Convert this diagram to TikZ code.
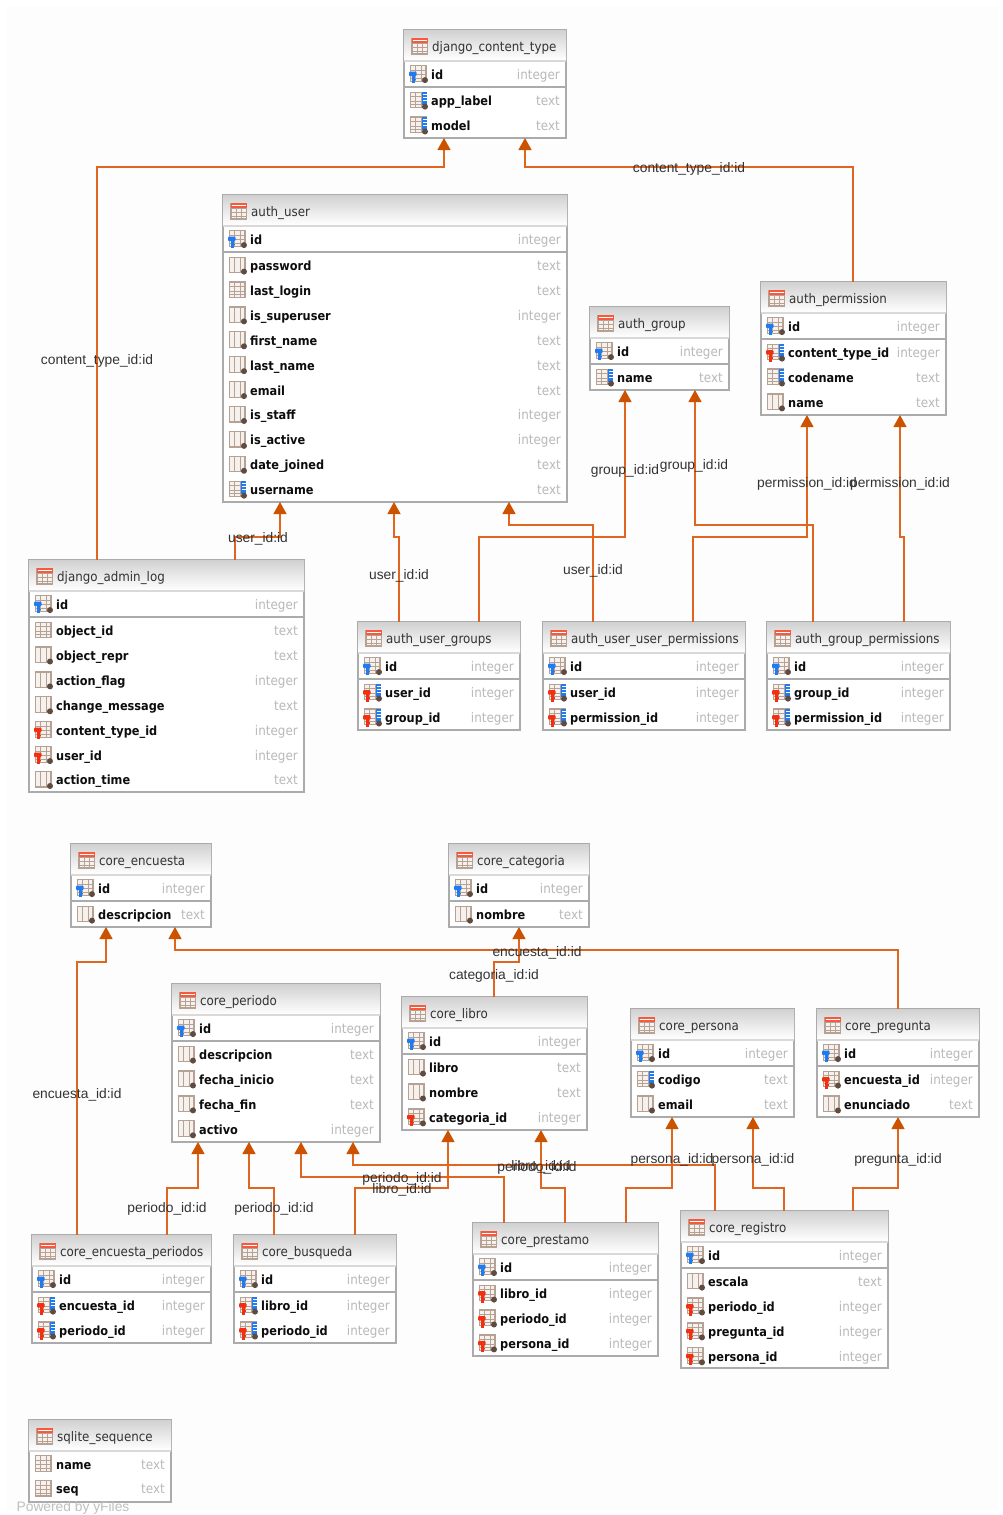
\documentclass[tikz,border=0pt]{standalone}
\usepackage{fontspec}
\setmainfont{Liberation Sans}
\newfontfamily\tablefont{DejaVu Sans Condensed}
\usetikzlibrary{arrows.meta}

\definecolor{fkline}{HTML}{E0651F}
\definecolor{fkhead}{HTML}{CC5200}
\definecolor{boxline}{HTML}{ABABAB}
\definecolor{iconline}{HTML}{B5A295}
\definecolor{iconfill}{HTML}{F6F1EC}
\definecolor{keyblue}{HTML}{1F7BEF}
\definecolor{keyred}{HTML}{F2300F}
\definecolor{dotbrown}{HTML}{5F4B40}
\definecolor{typegray}{HTML}{B9B9B9}

% icon parts
\newcommand{\iconbase}{
  \draw[iconline, fill=iconfill, line width=1.2pt] (-7.5,-7.5) rectangle (8,8);
  \foreach \gx in {-2.5,3} \draw[iconline, line width=1pt] (\gx,-7.5) -- (\gx,8);
}
\newcommand{\iconrows}{
  \foreach \gy in {-3,1.5,5} \draw[iconline, line width=.8pt] (-7.5,\gy) -- (8,\gy);
}
\newcommand{\iconhead}{
  \iconbase\iconrows
  \fill[keyred!80] (-8,-8) rectangle (8.5,-3.5);
  \draw[white, line width=.6pt] (-7,-5.8) -- (7.5,-5.8);
}
\newcommand{\icondot}{\fill[dotbrown] (7,7) circle (3);}
\newcommand{\iconbar}{
  \fill[keyblue] (4,-8) rectangle (8.5,5);
  \foreach \gy in {-5,-2,1} \draw[white, line width=.7pt] (5,\gy) -- (8.5,\gy);
}
\newcommand{\iconkey}[1]{
  \fill[#1, rounded corners=1pt] (-9,-1.5) rectangle (-1.5,3);
  \fill[#1] (-6.5,2) rectangle (-3.5,10);
  \fill[#1] (-3.5,5.5) rectangle (-2,7);
}
\newcommand{\colp}{\iconbase\iconrows}
\newcommand{\cold}{\iconbase\icondot}
\newcommand{\colpk}{\iconbase\iconrows\icondot\iconkey{keyblue}}
\newcommand{\colud}{\iconbase\iconrows\iconbar\icondot}
\newcommand{\colfud}{\iconbase\iconrows\iconbar\icondot\iconkey{keyred}}
\newcommand{\colfd}{\iconbase\iconrows\icondot\iconkey{keyred}}
\newcommand{\colf}{\iconbase\iconrows\iconkey{keyred}}

% [1 = has a primary key row], name, x, y, width, height, title, rows
\newcommand{\dbtable}[8][1]{
  \node[dbbox, minimum width=#5pt, minimum height=#6pt] (#2) at (#3,#4) {};
  \node[dbhead, minimum width=#5pt] (#2-head) at (#2.north west) {};
  \begin{scope}[shift={(#2.north west)}]
    \draw[black!15, line width=1.2pt] (0,31) -- (#5,31);
    \begin{scope}[shift={(15.5,16)}] \iconhead \end{scope}
    \node[dbtitle] (#2-title) at (28,21.5) {#7};
    \ifnum#1=1 \draw[boxline, line width=1.3pt] (0,57) -- (#5,57); \fi
    \foreach \ic/\nm/\ty [count=\k] in {#8} {
      \pgfmathsetmacro{\rowy}{44.6+(\k-1)*24.9+(\k>1)*1.6*#1}
      \begin{scope}[shift={(14,\rowy-1.5)}] \csname col\ic\endcsname \end{scope}
      \node[dbcol] (#2-n\k) at (27,\rowy+4.4) {\nm};
      \node[dbtype] (#2-t\k) at (#5-6,\rowy+4.4) {\ty};
    }
  \end{scope}
}

\begin{document}
\begin{tikzpicture}[x=1pt, y=-1pt]
\tikzstyle{dbbox}=[rectangle, draw=boxline, line width=1.2pt, fill=white, anchor=north west, outer sep=0pt, inner sep=0pt]
\tikzstyle{dbhead}=[rectangle, anchor=north west, minimum height=30pt, inner sep=0pt, outer sep=0pt, top color=black!18, bottom color=white, draw=none]
\tikzstyle{dbtitle}=[anchor=base west, inner sep=0pt, text=black!80, font=\tablefont\fontsize{13.2}{15}\selectfont]
\tikzstyle{dbcol}=[anchor=base west, inner sep=0pt, text=black!95, font=\tablefont\bfseries\fontsize{12.6}{15}\selectfont]
\tikzstyle{dbtype}=[anchor=base east, inner sep=0pt, text=typegray, font=\tablefont\fontsize{13.3}{15}\selectfont]
\tikzstyle{fk}=[fkline, line width=1.2pt, -{Triangle[length=12pt,width=13pt,color=fkhead]}]
\tikzstyle{fklabel}=[inner sep=0pt, yshift=-1.5pt, text=black!80, font=\fontsize{13.8}{16}\selectfont]

\useasboundingbox (0,0) rectangle (1003,1515);
\fill[black!0.7] (6,6) rectangle (998,1510);

\dbtable{ctype}{404}{30}{162}{108}{django\_content\_type}{
  pk/id/integer, ud/app\_label/text, ud/model/text}
\dbtable{authuser}{223}{195}{344}{307}{auth\_user}{
  pk/id/integer, d/password/text, p/last\_login/text, d/is\_superuser/integer,
  d/first\_name/text, d/last\_name/text, d/email/text, d/is\_staff/integer,
  d/is\_active/integer, d/date\_joined/text, ud/username/text}
\dbtable{authperm}{761}{282}{185}{133}{auth\_permission}{
  pk/id/integer, fud/content\_type\_id/integer, ud/codename/text, d/name/text}
\dbtable{authgroup}{590}{307}{139}{83}{auth\_group}{
  pk/id/integer, ud/name/text}
\dbtable{adminlog}{29}{560}{275}{232}{django\_admin\_log}{
  pk/id/integer, p/object\_id/text, d/object\_repr/text, d/action\_flag/integer,
  d/change\_message/text, f/content\_type\_id/integer, fd/user\_id/integer,
  d/action\_time/text}
\dbtable{usergroups}{358}{622}{162}{108}{auth\_user\_groups}{
  pk/id/integer, fud/user\_id/integer, fud/group\_id/integer}
\dbtable{userperms}{543}{622}{202}{108}{auth\_user\_user\_permissions}{
  pk/id/integer, fud/user\_id/integer, fud/permission\_id/integer}
\dbtable{groupperms}{767}{622}{183}{108}{auth\_group\_permissions}{
  pk/id/integer, fud/group\_id/integer, fud/permission\_id/integer}
\dbtable{encuesta}{71}{844}{140}{83}{core\_encuesta}{
  pk/id/integer, d/descripcion/text}
\dbtable{categoria}{449}{844}{140}{83}{core\_categoria}{
  pk/id/integer, d/nombre/text}
\dbtable{periodo}{172}{984}{208}{158}{core\_periodo}{
  pk/id/integer, d/descripcion/text, d/fecha\_inicio/text, d/fecha\_fin/text,
  d/activo/integer}
\dbtable{libro}{402}{997}{185}{133}{core\_libro}{
  pk/id/integer, d/libro/text, d/nombre/text, fd/categoria\_id/integer}
\dbtable{persona}{631}{1009}{163}{108}{core\_persona}{
  pk/id/integer, ud/codigo/text, d/email/text}
\dbtable{pregunta}{817}{1009}{162}{108}{core\_pregunta}{
  pk/id/integer, fd/encuesta\_id/integer, d/enunciado/text}
\dbtable{encper}{32}{1235}{179}{108}{core\_encuesta\_periodos}{
  pk/id/integer, fud/encuesta\_id/integer, fud/periodo\_id/integer}
\dbtable{busqueda}{234}{1235}{162}{108}{core\_busqueda}{
  pk/id/integer, fud/libro\_id/integer, fud/periodo\_id/integer}
\dbtable{prestamo}{473}{1223}{185}{133}{core\_prestamo}{
  pk/id/integer, fd/libro\_id/integer, fd/periodo\_id/integer, fd/persona\_id/integer}
\dbtable{registro}{681}{1211}{207}{157}{core\_registro}{
  pk/id/integer, d/escala/text, fd/periodo\_id/integer, fd/pregunta\_id/integer,
  fd/persona\_id/integer}
\dbtable[0]{sqliteseq}{29}{1420}{142}{82}{sqlite\_sequence}{
  p/name/text, p/seq/text}

\draw[fk] ([xshift=68pt]adminlog.north west) -- ++(0,-393) -| ([xshift=40pt]ctype.south west);
\draw[fk] ([xshift=92pt]authperm.north west) -- ++(0,-115) -| ([xshift=121pt]ctype.south west);
\draw[fk] ([xshift=206pt]adminlog.north west) -- ++(0,-23) -| ([xshift=57pt]authuser.south west);
\draw[fk] ([xshift=41pt]usergroups.north west) -- ++(0,-85) -| ([xshift=171pt]authuser.south west);
\draw[fk] ([xshift=121pt]usergroups.north west) -- ++(0,-85) -| ([xshift=35pt]authgroup.south west);
\draw[fk] ([xshift=50pt]userperms.north west) -- ++(0,-97) -| ([xshift=286pt]authuser.south west);
\draw[fk] ([xshift=150pt]userperms.north west) -- ++(0,-85) -| ([xshift=46pt]authperm.south west);
\draw[fk] ([xshift=46pt]groupperms.north west) -- ++(0,-97) -| ([xshift=105pt]authgroup.south west);
\draw[fk] ([xshift=137pt]groupperms.north west) -- ++(0,-85) -| ([xshift=139pt]authperm.south west);
\draw[fk] ([xshift=45pt]encper.north west) -- ++(0,-273) -| ([xshift=35pt]encuesta.south west);
\draw[fk] ([xshift=81pt]pregunta.north west) -- ++(0,-59) -| ([xshift=104pt]encuesta.south west);
\draw[fk] ([xshift=92pt]libro.north west) -- ++(0,-35) -| ([xshift=70pt]categoria.south west);
\draw[fk] ([xshift=135pt]encper.north west) -- ++(0,-47) -| ([xshift=26pt]periodo.south west);
\draw[fk] ([xshift=40pt]busqueda.north west) -- ++(0,-47) -| ([xshift=77pt]periodo.south west);
\draw[fk] ([xshift=121pt]busqueda.north west) -- ++(0,-47) -| ([xshift=46pt]libro.south west);
\draw[fk] ([xshift=31pt]prestamo.north west) -- ++(0,-46) -| ([xshift=129pt]periodo.south west);
\draw[fk] ([xshift=92pt]prestamo.north west) -- ++(0,-35) -| ([xshift=139pt]libro.south west);
\draw[fk] ([xshift=153pt]prestamo.north west) -- ++(0,-35) -| ([xshift=41pt]persona.south west);
\draw[fk] ([xshift=34pt]registro.north west) -- ++(0,-46) -| ([xshift=181pt]periodo.south west);
\draw[fk] ([xshift=103pt]registro.north west) -- ++(0,-23) -| ([xshift=122pt]persona.south west);
\draw[fk] ([xshift=172pt]registro.north west) -- ++(0,-23) -| ([xshift=81pt]pregunta.south west);

\node[fklabel] (lab1) at (97,359) {content\_type\_id:id};
\node[fklabel] (lab2) at (689,167) {content\_type\_id:id};
\node[fklabel] (lab3) at (258,537) {user\_id:id};
\node[fklabel] (lab4) at (399,574) {user\_id:id};
\node[fklabel] (lab5) at (625,469) {group\_id:id};
\node[fklabel] (lab6) at (593,569) {user\_id:id};
\node[fklabel] (lab7) at (807,482) {permission\_id:id};
\node[fklabel] (lab8) at (694,464) {group\_id:id};
\node[fklabel] (lab9) at (900,482) {permission\_id:id};
\node[fklabel] (lab10) at (77,1093) {encuesta\_id:id};
\node[fklabel] (lab11) at (537,951) {encuesta\_id:id};
\node[fklabel] (lab12) at (494,974) {categoria\_id:id};
\node[fklabel] (lab13) at (167,1207) {periodo\_id:id};
\node[fklabel] (lab14) at (274,1207) {periodo\_id:id};
\node[fklabel] (lab15) at (402,1188) {libro\_id:id};
\node[fklabel] (lab16) at (402,1177) {periodo\_id:id};
\node[fklabel] (lab17) at (541,1165) {libro\_id:id};
\node[fklabel] (lab18) at (672,1158) {persona\_id:id};
\node[fklabel] (lab19) at (537,1166) {periodo\_id:id};
\node[fklabel] (lab20) at (753,1158) {persona\_id:id};
\node[fklabel] (lab21) at (898,1158) {pregunta\_id:id};

\node[fklabel, text=black!25] (poweredby) at (73,1506) {Powered by yFiles};
\end{tikzpicture}
\end{document}
